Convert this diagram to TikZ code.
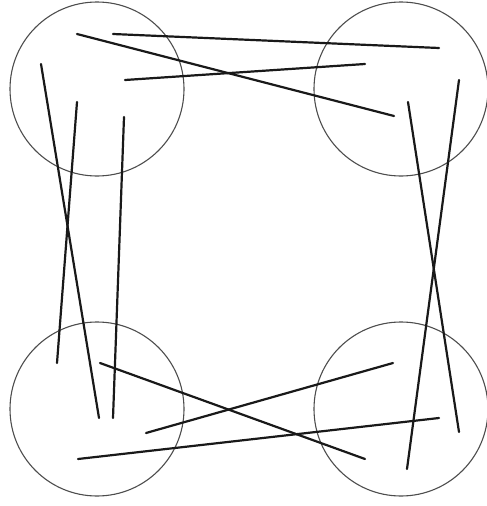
\documentclass[tikz,border=0pt]{standalone}
\begin{document}
\begin{tikzpicture}[x=1pt,y=-1pt,
  ring/.style={circle,draw=black!70,line width=1.1pt,minimum size=174pt,inner sep=0pt},
  stick/.style={draw=black!90,line width=2.2pt,line cap=round}]
\useasboundingbox (0,0) rectangle (487,506);
\node[ring] (tl) at (97,89) {};
\node[ring] (tr) at (401,89) {};
\node[ring] (bl) at (97,409) {};
\node[ring] (br) at (401,409) {};
% top
\coordinate (a1) at (77,34);  \coordinate (a2) at (394,116);
\coordinate (b1) at (113,34); \coordinate (b2) at (439,48);
\coordinate (c1) at (125,80); \coordinate (c2) at (365,64);
% left
\coordinate (d1) at (41,64);  \coordinate (d2) at (99,418);
\coordinate (e1) at (77,102); \coordinate (e2) at (57,363);
\coordinate (f1) at (124,117);\coordinate (f2) at (113,418);
% right
\coordinate (g1) at (408,102);\coordinate (g2) at (459,432);
\coordinate (h1) at (459,80); \coordinate (h2) at (407,469);
% bottom
\coordinate (i1) at (100,363);\coordinate (i2) at (365,459);
\coordinate (j1) at (146,433);\coordinate (j2) at (393,363);
\coordinate (k1) at (78,459); \coordinate (k2) at (439,418);
\foreach \p in {a,b,c,d,e,f,g,h,i,j,k}{\draw[stick] (\p1) -- (\p2);}
\end{tikzpicture}
\end{document}
